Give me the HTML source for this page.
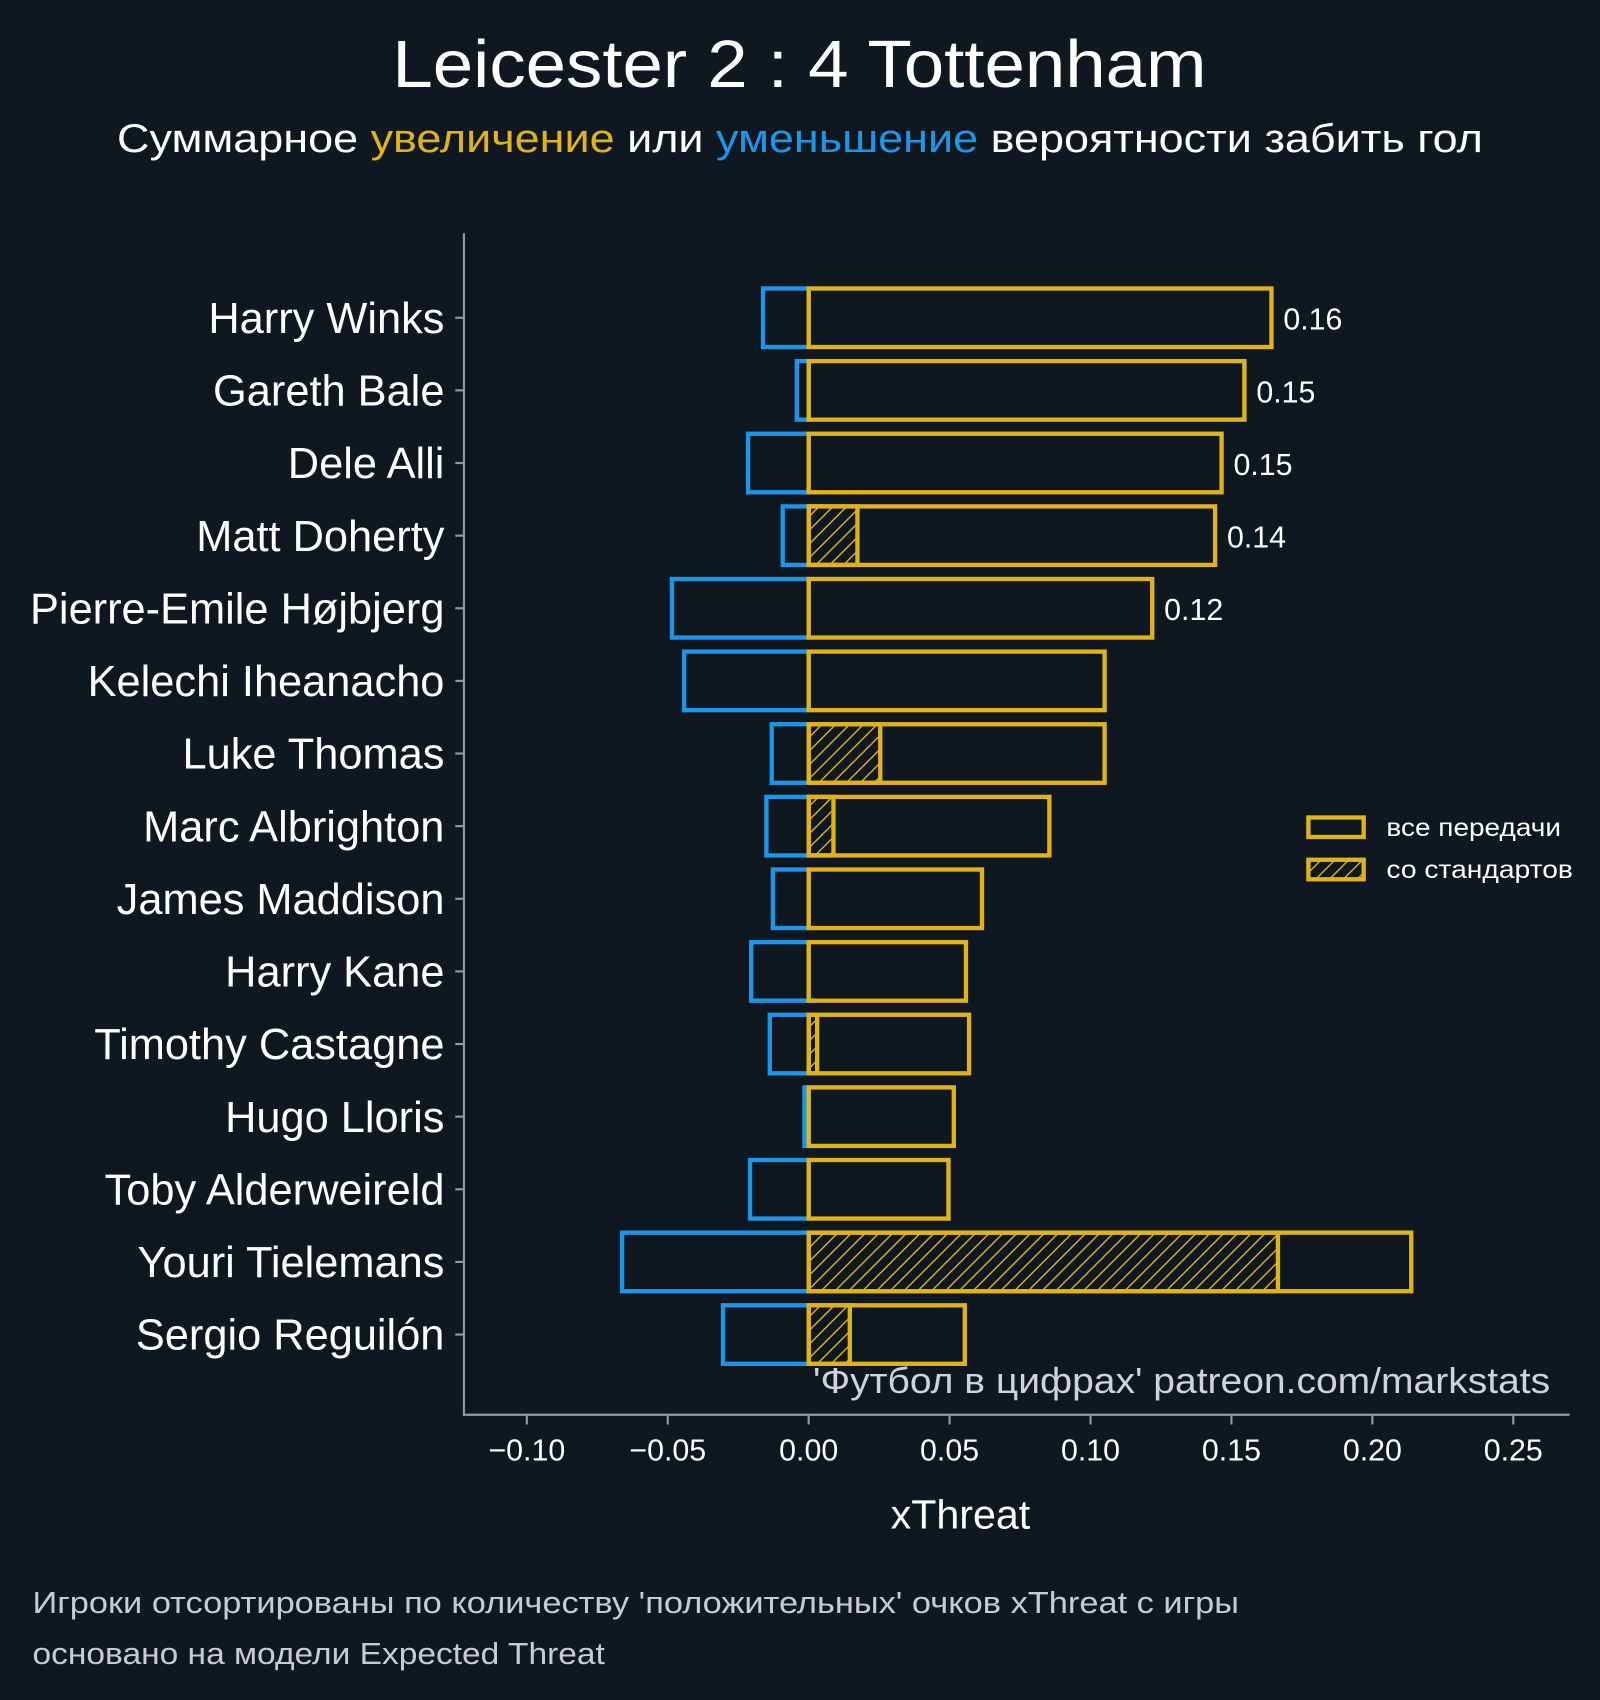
<!DOCTYPE html>
<html><head><meta charset="utf-8"><style>
html,body{margin:0;padding:0;background:#0f1820;}
svg{display:block;font-family:"Liberation Sans","DejaVu Sans",sans-serif;}
</style></head><body>
<svg id="chart" width="1600" height="1700" viewBox="0 0 1476 1568" xmlns="http://www.w3.org/2000/svg">
<defs>
<pattern id="hatch" patternUnits="userSpaceOnUse" width="9" height="9" patternTransform="rotate(45)">
<line x1="0" y1="0" x2="0" y2="9" stroke="#e0b31b" stroke-width="2.6"/>
</pattern>
</defs>
<rect x="0" y="0" width="1476" height="1568" fill="#0f1820"/>
<text x="362" y="80" textLength="751" lengthAdjust="spacingAndGlyphs" fill="#ffffff" font-size="62">Leicester 2 : 4 Tottenham</text>
<text x="108" y="140" textLength="1260" lengthAdjust="spacingAndGlyphs" fill="#ffffff" font-size="37">Суммарное <tspan fill="#e0b31b">увеличение</tspan> или <tspan fill="#1e96e8">уменьшение</tspan> вероятности забить гол</text>
<g id="bars"></g>
<g id="yaxis"></g>
<g id="xaxis"></g>
<line x1="428" y1="215" x2="428" y2="1306" stroke="#8a9ea0" stroke-width="2"/>
<line x1="427" y1="1305" x2="1448" y2="1305" stroke="#8a9ea0" stroke-width="2"/>
<text x="886" y="1410" text-anchor="middle" fill="#ffffff" font-size="38">xThreat</text>
<text x="750" y="1285" textLength="680" lengthAdjust="spacingAndGlyphs" fill="#d0d4d8" font-size="33">'Футбол в цифрах' patreon.com/markstats</text>
<g>
<rect x="1207" y="754" width="51" height="18" fill="none" stroke="#e0b31b" stroke-width="4"/>
<text x="1279" y="771" textLength="161" lengthAdjust="spacingAndGlyphs" fill="#ffffff" font-size="23">все передачи</text>
<rect x="1207" y="793" width="51" height="18" fill="url(#hatch)" stroke="#e0b31b" stroke-width="4"/>
<text x="1279" y="810" textLength="172" lengthAdjust="spacingAndGlyphs" fill="#ffffff" font-size="23">со стандартов</text>
</g>
<text x="30" y="1488" textLength="1113" lengthAdjust="spacingAndGlyphs" fill="#c8ccd0" font-size="28">Игроки отсортированы по количеству 'положительных' очков xThreat с игры</text>
<text x="30" y="1535" textLength="528" lengthAdjust="spacingAndGlyphs" fill="#c8ccd0" font-size="28">основано на модели Expected Threat</text>
</svg>
<script>
const players = ["Harry Winks","Gareth Bale","Dele Alli","Matt Doherty","Pierre-Emile Højbjerg","Kelechi Iheanacho","Luke Thomas","Marc Albrighton","James Maddison","Harry Kane","Timothy Castagne","Hugo Lloris","Toby Alderweireld","Youri Tielemans","Sergio Reguilón"];
const positiveValues = [0.1642,0.1546,0.1465,0.1442,0.1219,0.105,0.105,0.0854,0.0615,0.0558,0.0569,0.0515,0.0496,0.2138,0.0554];
const negativeValues = [-0.0162,-0.0042,-0.0215,-0.0092,-0.0485,-0.0442,-0.0131,-0.015,-0.0127,-0.0204,-0.0138,-0.0015,-0.0208,-0.0662,-0.0304];
const setPieceValues = [0,0,0,0.0173,0,0,0.0254,0.0088,0,0,0.003,0,0,0.1665,0.0146];
const labelledCount = 5;
const xTicks = [-0.10,-0.05,0.00,0.05,0.10,0.15,0.20,0.25];

const NS="http://www.w3.org/2000/svg";
const X0=746, XS=2600, Y0=293, YSTEP=67, BH=54;
const xScale=v=>X0+XS*v;
const yScale=i=>Y0+YSTEP*i;
const gold="#e0b31b", blue="#1e96e8";
function mk(tag,attrs,parent){const e=document.createElementNS(NS,tag);for(const k in attrs)e.setAttribute(k,attrs[k]);parent.appendChild(e);return e;}
const bars=document.getElementById('bars');
const yaxis=document.getElementById('yaxis');
const xaxis=document.getElementById('xaxis');
players.forEach((p,i)=>{
  const yc=yScale(i), top=yc-BH/2;
  const xn=xScale(negativeValues[i]);
  const nb=mk('rect',{x:xn,y:top,width:xScale(0)-xn,height:BH,fill:'none',stroke:blue,'stroke-width':4},bars);
  
  
  if(setPieceValues[i]>0){
    const sb=mk('rect',{x:xScale(0),y:top,width:xScale(setPieceValues[i])-xScale(0),height:BH,fill:'url(#hatch)',stroke:gold,'stroke-width':4},bars);
    
    
  }
  const pb=mk('rect',{x:xScale(0),y:top,width:xScale(positiveValues[i])-xScale(0),height:BH,fill:'none',stroke:gold,'stroke-width':4},bars);
  
  
  if(i<labelledCount){
    const t=mk('text',{x:xScale(positiveValues[i])+11,y:yc+11,fill:'#ffffff','font-size':28},bars);
    t.textContent=positiveValues[i].toFixed(2);
    
    
  }
  const tk=mk('line',{x1:420,y1:yc,x2:428,y2:yc,stroke:'#8a9ea0','stroke-width':2},yaxis);
  
  
  const lb=mk('text',{x:410,y:yc+14,'text-anchor':'end',fill:'#ffffff','font-size':40},yaxis);
  lb.textContent=p;
  
  
});
xTicks.forEach(v=>{
  const x=xScale(v);
  const tk=mk('line',{x1:x,y1:1305,x2:x,y2:1314,stroke:'#8a9ea0','stroke-width':2},xaxis);
  
  
  const t=mk('text',{x:x,y:1347,'text-anchor':'middle',fill:'#ffffff','font-size':28},xaxis);
  t.textContent=(v<0?'\u2212':'')+Math.abs(v).toFixed(2);
  
  
});
</script>
</body></html>
